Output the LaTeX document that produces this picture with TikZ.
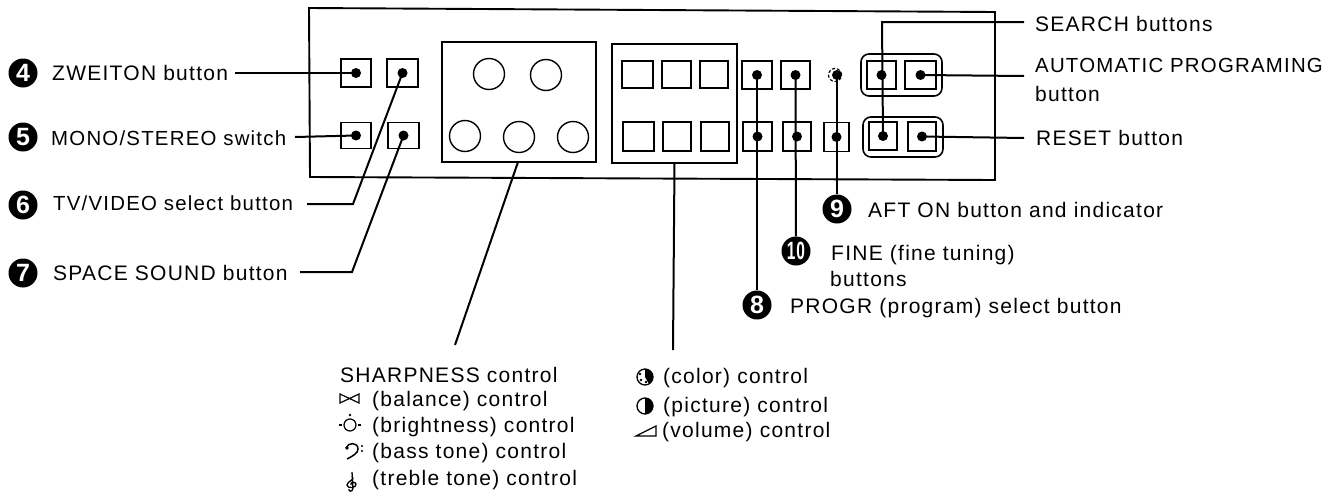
\documentclass[tikz,border=0pt]{standalone}
\usepackage{fontspec}
\setmainfont[LetterSpace=6]{Liberation Sans}
\usetikzlibrary{calc}
\colorlet{inkcol}{black}
\tikzset{every node/.style={font=\fontsize{21}{23}\selectfont, text=inkcol}}
\tikzset{
  btn/.style={draw=inkcol, line width=1.8pt, inner sep=0pt, outer sep=0pt},
  knob/.style={draw=inkcol, line width=1.4pt, circle, inner sep=0pt, minimum size=31pt},
  numcirc/.style={circle, fill=inkcol, inner sep=0pt, minimum size=29pt,
    text=white, font=\fontsize{25}{25}\selectfont\bfseries},
  lbl/.style={anchor=base west, inner sep=0pt},
  lblsmall/.style={lbl, font=\fontsize{20.4}{23}\selectfont},
  lead/.style={draw=inkcol, line width=2pt},
}

\begin{document}
\begin{tikzpicture}[x=1pt, y=-1pt]
  \useasboundingbox (0,0) rectangle (1344,493);

  % Front panel.
  \draw[inkcol, line width=1.9pt] (309,8) -- (995,12) -- (995,180) -- (310,177) -- cycle;

  % Knob box and tuning box.
  \node[btn, minimum width=154pt, minimum height=120pt] (knobbox) at (519,102) {};
  \node[btn, minimum width=125pt, minimum height=119pt] (tilebox) at (674.5,103.5) {};

  % Knobs.
  \foreach \name/\x/\y in {ka/489/74, kb/546/75, kc/465/136, kd/519/137, ke/573/137} {
    \node[knob] (\name) at (\x,\y) {};
  }

  % Plain buttons in the tuning box.
  \foreach \name/\x/\y/\w/\h in {ta/637.5/74.5/31/27, tb/676.5/74.5/29/27, tc/714/74.5/28/27,
      td/638.5/136.5/31/29, te/677/136.5/28/29, tf/715/136.5/28/29} {
    \node[btn, minimum width=\w pt, minimum height=\h pt] (\name) at (\x,\y) {};
  }

  % Rounded groups on the right.
  \draw[inkcol, line width=1.6pt, rounded corners=8pt] (861,54) rectangle (942,96);
  \draw[inkcol, line width=1.6pt, rounded corners=8pt] (863,117) rectangle (943,157);

  % Buttons with a dot.
  \foreach \name/\x/\y/\w/\h in {zwei/356/73/30/28, tvv/402.5/73/31/28, mono/356/135.5/30/26,
      space/403.5/135.5/31/26, pra/757/75/30/28, fia/795.5/75/29/28, prb/757.5/136.5/29/29,
      fib/797/136.5/28/29, aft/836.5/137/25/29, sea/881.5/75/29/28, aut/920.5/75/31/28,
      seb/883/136/28/28, res/922/136.5/28/29} {
    \node[btn, minimum width=\w pt, minimum height=\h pt] (\name) at (\x,\y) {};
    \fill[inkcol] (\name) circle (5);
  }

  % Indicator.
  \node[draw=inkcol, line width=1.2pt, densely dashed, circle, inner sep=0pt, minimum size=13pt] (ind) at (835,75) {};
  \fill[inkcol] (837,75) circle (5);

  % Number discs.
  \node[numcirc] (n4) at (23,73) {4};
  \node[numcirc] (n5) at (23,137) {5};
  \node[numcirc] (n6) at (23,205) {6};
  \node[numcirc] (n7) at (23,273) {7};
  \node[numcirc] (n9) at (837,209) {9};
  \node[numcirc] (n10) at (796,251) {\scalebox{.62}[1]{10}};
  \node[numcirc] (n8) at (757,305) {8};

  % Left labels.
  \node[lbl] (zweilbl) at (52,80) {ZWEITON button};
  \node[lblsmall] (monolbl) at (51,145) {MONO/STEREO switch};
  \node[lblsmall] (tvvlbl) at (53,210) {TV/VIDEO select button};
  \node[lbl] (spacelbl) at (53,280) {SPACE SOUND button};

  % Right labels.
  \node[lbl] (sealbl) at (1035,31) {SEARCH buttons};
  \node[lblsmall] (autlbl) at (1035,72) {AUTOMATIC PROGRAMING};
  \node[lbl] (autlblb) at (1035,101) {button};
  \node[lbl] (reslbl) at (1036,145) {RESET button};

  % Lower labels.
  \node[lbl] (aftlbl) at (868,217) {AFT ON button and indicator};
  \node[lbl] (finelbl) at (831,260) {FINE (fine tuning)};
  \node[lbl] (finelblb) at (830,286) {buttons};
  \node[lbl] (prlbl) at (790,313) {PROGR (program) select button};

  % Control lists.
  \node[lbl] (sharplbl) at (340,382) {SHARPNESS control};
  \node[lbl] (ballbl) at (372,406) {(balance) control};
  \node[lbl] (brilbl) at (372,432) {(brightness) control};
  \node[lbl] (baslbl) at (372,458) {(bass tone) control};
  \node[lbl] (trelbl) at (372,485) {(treble tone) control};
  \node[lbl] (collbl) at (663,383) {(color) control};
  \node[lbl] (piclbl) at (663,412) {(picture) control};
  \node[lbl] (vollbl) at (662,437) {(volume) control};

  % Free ends of the leaders.
  \coordinate (zweiend) at (235,73);
  \coordinate (monoend) at (295,137);
  \coordinate (tvvend) at (307,204);
  \coordinate (tvvbend) at (353,204);
  \coordinate (spaceend) at (300,272);
  \coordinate (spacebend) at (352,272);
  \coordinate (seaend) at (1024,22);
  \coordinate (autend) at (1024,76);
  \coordinate (resend) at (1024,138);
  \coordinate (sharpend) at (455,345);
  \coordinate (tileend) at (673,350);

  % Leaders.
  \draw[lead] (zweiend) -- (zwei.center);
  \draw[lead] (monoend) -- (mono.center);
  \draw[lead] (tvvend) -- (tvvbend) -- (tvv.center);
  \draw[lead] (spaceend) -- (spacebend) -- (space.center);
  \draw[lead] (seb.center) -- (882,22) -- (seaend);
  \draw[lead] (aut.center) -- (autend);
  \draw[lead] (res.center) -- (resend);
  \draw[lead] (pra.center) -- (n8);
  \draw[lead] (fia.center) -- (n10);
  \draw[lead] (837,75) -- (n9);
  \draw[lead] (518,162) -- (sharpend);
  \draw[lead] (tilebox.south) -- (tileend);

  % Balance symbol.
  \draw[inkcol, line width=1.2pt] (340,394) -- (359,403) -- (359,394) -- (340,403) -- cycle;

  % Brightness symbol.
  \draw[inkcol, line width=1.2pt] (350,425) circle (6);
  \fill[inkcol] (350,415) circle (1.4);
  \draw[inkcol, line width=1.2pt] (339,425) -- (342,425) (358,425) -- (361,425);

  % Bass clef.
  \draw[inkcol, line width=1.5pt] (346,448) .. controls (348,442) and (358,442) .. (358,449)
    .. controls (358,453) and (353,456) .. (347,459);
  \fill[inkcol] (347,448) circle (1.8) (362,446) circle (1.2) (362,451) circle (1.2);

  % Treble clef.
  \draw[inkcol, line width=1.3pt] (352,472) -- (353,488) .. controls (353,492) and (348,492) .. (349,489)
    (352,476) .. controls (356,480) and (347,481) .. (347,485)
    .. controls (347,489) and (357,488) .. (356,484) .. controls (355,481) and (350,482) .. (351,485);

  % Color symbol.
  \draw[inkcol, line width=1.3pt] (645,377) circle (8);
  \fill[inkcol] (645,377) -- (645,369) arc (-90:60:8) -- cycle;
  \fill[inkcol] (641,380) circle (1.3) (646,382) circle (1.3) (640,374) circle (1.3);

  % Picture symbol.
  \draw[inkcol, line width=1.3pt] (645,406) circle (8);
  \fill[inkcol] (645,398) arc (-90:90:8) -- cycle;

  % Volume symbol.
  \draw[inkcol, line width=1.3pt] (636,436) -- (656,426) -- (656,436) -- cycle;
\end{tikzpicture}
\end{document}
